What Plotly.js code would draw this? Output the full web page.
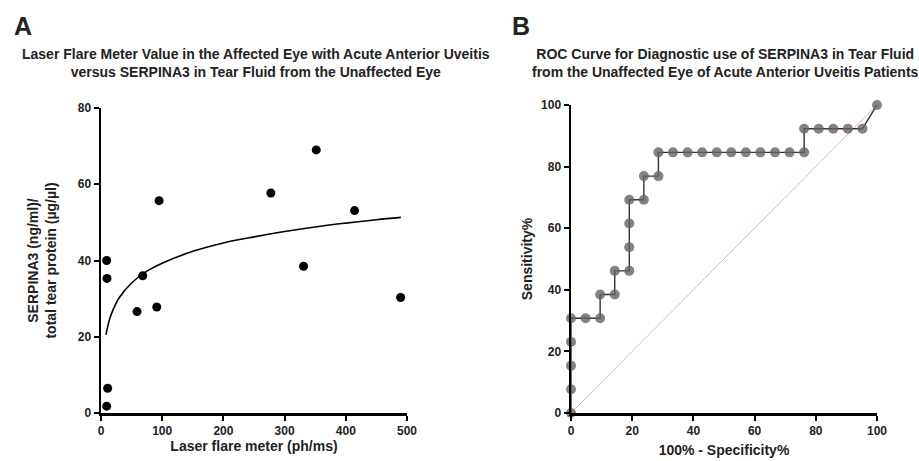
<!DOCTYPE html>
<html>
<head>
<meta charset="utf-8">
<script src="https://cdn.plot.ly/plotly-3.0.1.min.js"></script>
<style>html,body{margin:0;padding:0;background:#fff;}#chart{width:919px;height:461px;}</style>
</head>
<body>
<div id="chart"></div>
<script>
// Panel A: laser flare meter vs SERPINA3
const flareX = [9.3, 9.8, 10.9, 9.3, 58.9, 68.2, 91.1, 94.9, 277.5, 331, 351.7, 414.4, 489.6];
const serpY  = [40.0, 35.3, 6.5, 1.8, 26.6, 36.0, 27.8, 55.7, 57.7, 38.5, 69.0, 53.1, 30.3];
// Fitted curve
const fitX = [8.2, 10, 15, 20, 30, 50, 75, 100, 150, 200, 250, 300, 350, 400, 450, 490];
const fitY = [20.5, 22.0, 25.1, 27.2, 30.3, 34.1, 37.2, 39.3, 42.4, 44.6, 46.2, 47.6, 48.8, 49.8, 50.7, 51.3];

// Panel B: ROC curve
const rocX = [0, 0, 0, 0, 0, 4.76, 9.52, 9.52, 14.29, 14.29, 19.05, 19.05, 19.05, 19.05, 23.81, 23.81, 28.57, 28.57,
  33.33, 38.10, 42.86, 47.62, 52.38, 57.14, 61.90, 66.67, 71.43, 76.19, 76.19, 80.95, 85.71, 90.48, 95.24, 100];
const rocY = [0, 7.69, 15.38, 23.08, 30.77, 30.77, 30.77, 38.46, 38.46, 46.15, 46.15, 53.85, 61.54, 69.23, 69.23, 76.92, 76.92, 84.62,
  84.62, 84.62, 84.62, 84.62, 84.62, 84.62, 84.62, 84.62, 84.62, 84.62, 92.31, 92.31, 92.31, 92.31, 92.31, 100];
const diagX = [0, 100];
const diagY = [0, 100];

const xTicksA = [0, 100, 200, 300, 400, 500];
const yTicksA = [0, 20, 40, 60, 80];
const ticksB = [0, 20, 40, 60, 80, 100];

const FONT = 'Arial, "Liberation Sans", sans-serif';
const titleFont = {family: FONT, size: 14, color: '#222', weight: 'bold'};

const traces = [
  {x: fitX, y: fitY, mode: 'lines', line: {color: '#000', width: 1.6, shape: 'spline'}, xaxis: 'x', yaxis: 'y', hoverinfo: 'skip'},
  {x: flareX, y: serpY, mode: 'markers', marker: {color: '#000', size: 9}, xaxis: 'x', yaxis: 'y', cliponaxis: false},
  {x: diagX, y: diagY, mode: 'lines', line: {color: '#eeb498', width: 1}, xaxis: 'x2', yaxis: 'y2'},
  {x: rocX, y: rocY, mode: 'lines+markers', line: {color: '#333', width: 1.4},
   marker: {color: 'rgba(100,100,100,0.8)', size: 10}, xaxis: 'x2', yaxis: 'y2', cliponaxis: false}
];

const axisCommon = {
  showgrid: false, zeroline: false, showline: true, linecolor: '#000', linewidth: 2.5,
  ticks: 'outside', ticklen: 5, tickwidth: 2, tickcolor: '#000',
  tickfont: {family: FONT, size: 12, color: '#222', weight: 'bold'},
  automargin: false, fixedrange: true
};

const layout = {
  width: 919, height: 461,
  margin: {l: 0, r: 0, t: 0, b: 0},
  paper_bgcolor: '#fff', plot_bgcolor: '#fff',
  showlegend: false,
  font: {family: FONT},
  xaxis: Object.assign({}, axisCommon, {
    domain: [101/919, 407/919], range: [0, 500], tickvals: xTicksA, anchor: 'y',
    title: {text: 'Laser flare meter (ph/ms)', font: titleFont, standoff: 2.5}
  }),
  yaxis: Object.assign({}, axisCommon, {
    domain: [48/461, 353/461], range: [0, 80], tickvals: yTicksA, anchor: 'x',
    title: {text: 'SERPINA3 (ng/ml)/<br>total tear protein (µg/µl)', font: titleFont, standoff: 18}
  }),
  xaxis2: Object.assign({}, axisCommon, {
    domain: [571/919, 877/919], range: [0, 100], tickvals: ticksB, anchor: 'y2',
    title: {text: '100% - Specificity%', font: titleFont, standoff: 9}
  }),
  yaxis2: Object.assign({}, axisCommon, {
    domain: [48/461, 356/461], range: [0, 100], tickvals: ticksB, anchor: 'x2',
    title: {text: 'Sensitivity%', font: titleFont, standoff: 5}
  }),
  annotations: [
    {text: 'A', x: 12/919, y: 1 - 26/461, xref: 'paper', yref: 'paper', xanchor: 'left', yanchor: 'middle', showarrow: false,
     font: {family: FONT, size: 25, color: '#222', weight: 'bold'}},
    {text: 'B', x: 510/919, y: 1 - 26/461, xref: 'paper', yref: 'paper', xanchor: 'left', yanchor: 'middle', showarrow: false,
     font: {family: FONT, size: 25, color: '#222', weight: 'bold'}},
    {text: 'Laser Flare Meter Value in the Affected Eye with Acute Anterior Uveitis<br>versus SERPINA3 in Tear Fluid from the Unaffected Eye',
     x: 256/919, y: 1 - 63/461, xref: 'paper', yref: 'paper', xanchor: 'center', yanchor: 'middle', showarrow: false,
     font: titleFont},
    {text: 'ROC Curve for Diagnostic use of SERPINA3 in Tear Fluid<br>from the Unaffected Eye of Acute Anterior Uveitis Patients',
     x: 725/919, y: 1 - 63/461, xref: 'paper', yref: 'paper', xanchor: 'center', yanchor: 'middle', showarrow: false,
     font: titleFont}
  ]
};

Plotly.newPlot('chart', traces, layout, {displayModeBar: false, staticPlot: true});
</script>
</body>
</html>
